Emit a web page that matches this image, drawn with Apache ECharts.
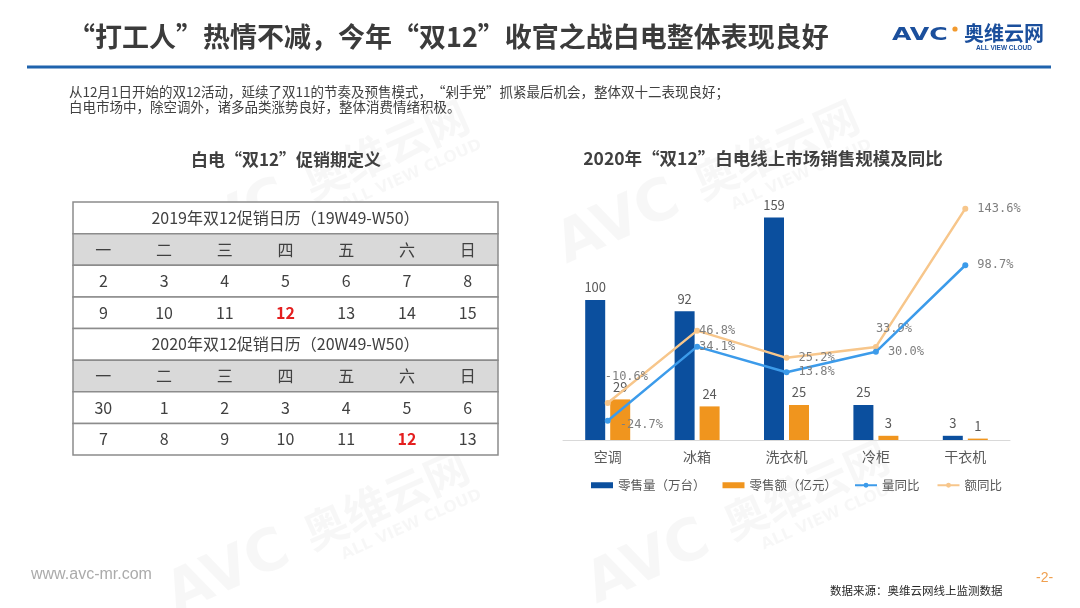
<!DOCTYPE html>
<html>
<head>
<meta charset="utf-8">
<script src="https://cdn.jsdelivr.net/npm/echarts@6/dist/echarts.min.js"></script>
<style>
html,body{margin:0;padding:0;background:#fff;}
#main{width:1080px;height:608px;}
</style>
</head>
<body>
<div id="main"></div>
<script>
// ---------- data ----------
const weekdays = ['一','二','三','四','五','六','日'];
const title2019 = '2019年双12促销日历（19W49-W50）';
const days2019 = [[2,3,4,5,6,7,8],[9,10,11,12,13,14,15]];
const title2020 = '2020年双12促销日历（20W49-W50）';
const days2020 = [[30,1,2,3,4,5,6],[7,8,9,10,11,12,13]];
const highlightDay = 12;

const categories = ['空调','冰箱','洗衣机','冷柜','干衣机'];
const salesVolume = [100, 92, 159, 25, 3];      // 零售量（万台）
const salesAmount = [29, 24, 25, 3, 1];         // 零售额（亿元）
const volumeYoY = [-24.7, 34.1, 13.8, 30.0, 98.7]; // 量同比 %
const amountYoY = [-10.6, 46.8, 25.2, 33.9, 143.6]; // 额同比 %
const seriesNames = ['零售量（万台）','零售额（亿元）','量同比','额同比'];

// ---------- texts ----------
const mainTitle = '“打工人”热情不减，今年“双12”收官之战白电整体表现良好';
const introLines = ['从12月1日开始的双12活动，延续了双11的节奏及预售模式，“剁手党”抓紧最后机会，整体双十二表现良好；',
                    '白电市场中，除空调外，诸多品类涨势良好，整体消费情绪积极。'];
const tableTitle = '白电“双12”促销期定义';
const chartTitle = '2020年“双12”白电线上市场销售规模及同比';

const CJK = '"Noto Sans CJK SC", "Noto Sans", sans-serif';

// table rows
const rows = [
  {type:'title', text:title2019},
  {type:'header', cells:weekdays},
  {type:'days', cells:days2019[0]},
  {type:'days', cells:days2019[1]},
  {type:'title', text:title2020},
  {type:'header', cells:weekdays},
  {type:'days', cells:days2020[0]},
  {type:'days', cells:days2020[1]}
];

// label tweaks (style only)
const amountLabelOffsets = [[-15,-26],[-10,0],[0,0],[-12,-18],[0,0]];
const volumeLabelOffsets = [[0,4],[-10,0],[0,0],[0,0],[0,0]];

const pct = v => v.toFixed(1) + '%';

const chart = echarts.init(document.getElementById('main'), null, {renderer:'canvas'});

function renderRow(params, api){
  const i = api.value(1);
  const row = rows[i];
  const p0 = api.coord([0, i]);
  const p1 = api.coord([7, i + 1]);
  const children = [{
    type:'rect',
    shape:{x:p0[0], y:p0[1], width:p1[0]-p0[0], height:p1[1]-p0[1]},
    style:{fill: row.type === 'header' ? '#D9D9D9' : '#ffffff', stroke:'#8C8C8C', lineWidth:1.5}
  }];
  if (row.type === 'title') {
    const c = api.coord([3.5, i + 0.5]);
    children.push({type:'text', x:c[0], y:c[1], style:{text:row.text, fontSize:16, fontFamily:CJK, fill:'#404040', align:'center', verticalAlign:'middle'}});
  } else {
    row.cells.forEach((t, k) => {
      const c = api.coord([k + 0.5, i + 0.5]);
      const hi = row.type === 'days' && t === highlightDay;
      children.push({type:'text', x:c[0], y:c[1], style:{text:String(t), fontSize:16, fontFamily:CJK,
        fontWeight: hi ? 'bold' : 'normal', fill: hi ? '#E41E1E' : '#404040', align:'center', verticalAlign:'middle'}});
    });
  }
  return {type:'group', children};
}

function wm(x, y, rot){
  const c = 'rgba(0,0,0,0.032)';
  return {type:'group', x, y, rotation:rot, z:-10, silent:true, children:[
    {type:'text', x:0, y:0, style:{text:'AVC', fontSize:58, fontWeight:'bold', fontFamily:'"DejaVu Sans", sans-serif', fill:c, verticalAlign:'middle'}},
    {type:'text', x:150, y:-4, style:{text:'奥维云网', fontSize:44, fontWeight:'bold', fontFamily:CJK, fill:c, verticalAlign:'middle'}},
    {type:'text', x:175, y:30, style:{text:'ALL VIEW CLOUD', fontSize:16, fontWeight:'bold', fontFamily:'"DejaVu Sans", sans-serif', fill:c, verticalAlign:'middle'}}
  ]};
}

const option = {
  backgroundColor:'#ffffff',
  animation:false,
  textStyle:{fontFamily:CJK},
  graphic:[
    wm(170, 250, 0.42), wm(560, 250, 0.42), wm(170, 600, 0.42), wm(590, 590, 0.42),
    {type:'text', x:68, y:37, style:{text:mainTitle, fontSize:27, fontWeight:'bold', fontFamily:CJK, fill:'#3B3B3B', verticalAlign:'middle'}},
    {type:'line', shape:{x1:27, y1:67, x2:1051, y2:67}, style:{stroke:'#1F63AD', lineWidth:3}},
    {type:'text', x:892, y:35, scaleX:1.4, style:{text:'AVC', fontSize:18, fontWeight:'bold', fontFamily:'"DejaVu Sans", sans-serif', fill:'#1B4F9C', verticalAlign:'middle'}},
    {type:'circle', shape:{cx:955, cy:29, r:2.6}, style:{fill:'#F29A2E'}},
    {type:'text', x:964, y:33, style:{text:'奥维云网', fontSize:20, fontWeight:'bold', fontFamily:CJK, fill:'#1B4F9C', verticalAlign:'middle'}},
    {type:'text', x:976, y:48, style:{text:'ALL VIEW CLOUD', fontSize:6.5, fontWeight:'bold', fontFamily:'"Liberation Sans", sans-serif', fill:'#1B4F9C', verticalAlign:'middle'}},
    {type:'text', x:69, y:92, style:{text:introLines[0], fontSize:13.5, fontFamily:CJK, fill:'#404040', verticalAlign:'middle'}},
    {type:'text', x:69, y:107, style:{text:introLines[1], fontSize:13.5, fontFamily:CJK, fill:'#404040', verticalAlign:'middle'}},
    {type:'text', x:286, y:160, style:{text:tableTitle, fontSize:17, fontWeight:'bold', fontFamily:CJK, fill:'#404040', align:'center', verticalAlign:'middle'}},
    {type:'text', x:763, y:158, style:{text:chartTitle, fontSize:17.5, fontWeight:'bold', fontFamily:CJK, fill:'#404040', align:'center', verticalAlign:'middle'}},
    {type:'text', x:31, y:575, style:{text:'www.avc-mr.com', fontSize:16, fontFamily:'"Liberation Sans", sans-serif', fill:'#ABABAB', verticalAlign:'middle'}},
    {type:'text', x:1036, y:578, style:{text:'-2-', fontSize:14, fontFamily:'"Liberation Sans", sans-serif', fill:'#F0A050', verticalAlign:'middle'}},
    {type:'text', x:830, y:591, style:{text:'数据来源：奥维云网线上监测数据', fontSize:11.5, fontFamily:CJK, fill:'#262626', verticalAlign:'middle'}}
  ],
  legend:{
    left:586, top:474, itemWidth:22, itemHeight:6, itemGap:17,
    textStyle:{fontSize:12.5, color:'#595959', fontFamily:CJK},
    data:[
      {name:seriesNames[0], icon:'rect'},
      {name:seriesNames[1], icon:'rect'},
      {name:seriesNames[2]},
      {name:seriesNames[3]}
    ]
  },
  grid:[
    {left:563, right:70, top:188, bottom:168},
    {left:73, top:202, width:425, height:253}
  ],
  xAxis:[
    {type:'category', gridIndex:0, data:categories,
     axisLine:{lineStyle:{color:'#D9D9D9', width:1}}, axisTick:{show:false},
     axisLabel:{fontSize:14, color:'#595959', margin:10, fontFamily:CJK}},
    {type:'value', gridIndex:1, min:0, max:7, show:false}
  ],
  yAxis:[
    {type:'value', gridIndex:0, min:0, max:180, show:false, splitLine:{show:false}},
    {type:'value', gridIndex:0, min:-40, max:160, show:false, splitLine:{show:false}},
    {type:'value', gridIndex:1, min:0, max:8, inverse:true, show:false}
  ],
  series:[
    {name:seriesNames[0], type:'bar', xAxisIndex:0, yAxisIndex:0, data:salesVolume, barWidth:20, barGap:'25%',
     itemStyle:{color:'#0B4F9E'},
     label:{show:true, position:'top', distance:6, fontSize:13, color:'#595959', fontFamily:CJK}},
    {name:seriesNames[1], type:'bar', xAxisIndex:0, yAxisIndex:0, data:salesAmount, barWidth:20,
     itemStyle:{color:'#F0951E'},
     label:{show:true, position:'top', distance:6, fontSize:13, color:'#595959', fontFamily:CJK}},
    {name:seriesNames[2], type:'line', xAxisIndex:0, yAxisIndex:1, z:5,
     data:volumeYoY.map((v,i)=>({value:v, label:{offset:volumeLabelOffsets[i]}})),
     symbol:'circle', symbolSize:6, lineStyle:{width:2.5, color:'#3C9BEA'}, itemStyle:{color:'#3C9BEA'},
     label:{show:true, position:'right', distance:9, formatter:p=>pct(p.value), fontSize:12, color:'#7F7F7F', fontFamily:'"DejaVu Sans Mono", monospace'}},
    {name:seriesNames[3], type:'line', xAxisIndex:0, yAxisIndex:1, z:4,
     data:amountYoY.map((v,i)=>({value:v, label:{offset:amountLabelOffsets[i]}})),
     symbol:'circle', symbolSize:6, lineStyle:{width:2.5, color:'#F7C68B'}, itemStyle:{color:'#F7C68B'},
     label:{show:true, position:'right', distance:9, formatter:p=>pct(p.value), fontSize:12, color:'#7F7F7F', fontFamily:'"DejaVu Sans Mono", monospace'}},
    {name:'calendar', type:'custom', xAxisIndex:1, yAxisIndex:2, coordinateSystem:'cartesian2d',
     data:rows.map((r,i)=>[0,i]), renderItem:renderRow, silent:true}
  ]
};
chart.setOption(option);
</script>
</body>
</html>
